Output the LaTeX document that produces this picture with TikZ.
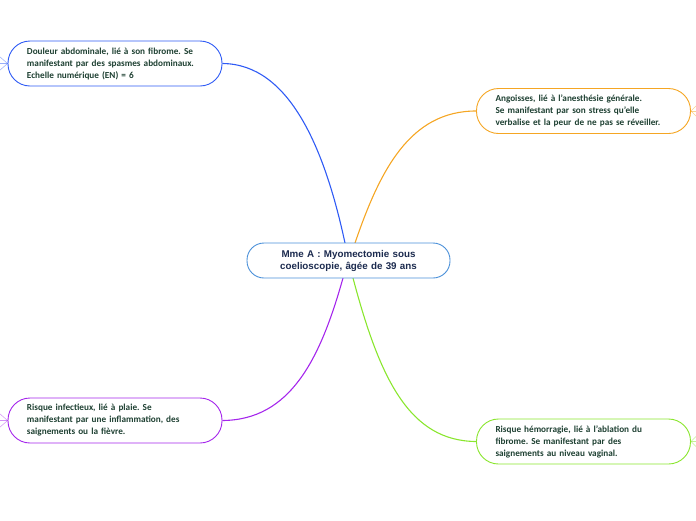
\documentclass[tikz,border=0pt]{standalone}
\usepackage{fontspec}
\setmainfont{Carlito}
\newfontfamily\titlefont{Liberation Sans}
\frenchspacing
\definecolor{txtgreen}{HTML}{1E4032}
\definecolor{txtnavy}{HTML}{1C2B4F}
\definecolor{brblue}{HTML}{2F5BF5}
\definecolor{brorange}{HTML}{F5A623}
\definecolor{brpurple}{HTML}{A526EC}
\definecolor{brgreen}{HTML}{8AE62E}
\definecolor{rootblue}{HTML}{4A90D9}
\begin{document}
\begin{tikzpicture}[x=1pt,y=-1pt,
    topic/.style={draw, line width=0.9pt, rounded corners=22pt, fill=white,
      minimum height=45pt, minimum width=214pt, text width=176pt,
      align=left, inner xsep=19pt, text=txtgreen,
      font=\fontsize{9.2}{12}\selectfont\bfseries},
    root/.style={draw=rootblue, line width=0.9pt, rounded corners=17pt, fill=white,
      minimum height=35pt, minimum width=203pt, text width=180pt,
      align=center, text=txtnavy, font=\titlefont\fontsize{9.8}{12}\selectfont\bfseries},
    branch/.style={line width=1.1pt},
    fork/.style={line width=0.5pt, opacity=0.5}]
    \useasboundingbox (0,0) rectangle (696,520);

    % branches
    \coordinate (bl) at (345,243);
    \coordinate (br) at (355,243);
    \coordinate (tl) at (343,278);
    \coordinate (tr) at (353,278);

    \node[topic, draw=brblue] (douleur) at (115,63.5) {Douleur abdominale, lié à son fibrome. Se\\ manifestant par des spasmes abdominaux.\\ Echelle numérique (EN) = 6};
    \node[topic, draw=brorange] (angoisse) at (583.5,111) {Angoisses, lié à l'anesthésie générale.\\ Se manifestant par son stress qu'elle\\ verbalise et la peur de ne pas se réveiller.};
    \node[topic, draw=brpurple] (infect) at (115,420.5) {Risque infectieux, lié à plaie. Se\\ manifestant par une inflammation, des\\ saignements ou la fièvre.};
    \node[topic, draw=brgreen] (hemo) at (583.5,441.5) {Risque hémorragie, lié à l'ablation du\\ fibrome. Se manifestant par des\\ saignements au niveau vaginal.};

    \draw[branch, brblue] (bl) .. controls (325,150) and (290,64) .. (douleur.east);
    \draw[branch, brorange] (br) .. controls (380,170) and (410,111) .. (angoisse.west);
    \draw[branch, brpurple] (tl) .. controls (320,360) and (290,420) .. (infect.east);
    \draw[branch, brgreen] (tr) .. controls (380,380) and (410,441) .. (hemo.west);

    \node[root] (mme) at (348.5,260.5) {Mme A : Myomectomie sous\\ coelioscopie, âgée de 39 ans};

    % collapsed children
    \foreach \n/\c in {douleur/brblue, infect/brpurple} {
      \draw[fork, \c] (\n.west) -- ++(-8,-7);
      \draw[fork, \c] (\n.west) -- ++(-8,0);
      \draw[fork, \c] (\n.west) -- ++(-8,7);
    }
    \foreach \n/\c in {angoisse/brorange, hemo/brgreen} {
      \draw[fork, \c] (\n.east) -- ++(6,-6);
      \draw[fork, \c] (\n.east) -- ++(6,0);
      \draw[fork, \c] (\n.east) -- ++(6,6);
    }
\end{tikzpicture}
\end{document}
